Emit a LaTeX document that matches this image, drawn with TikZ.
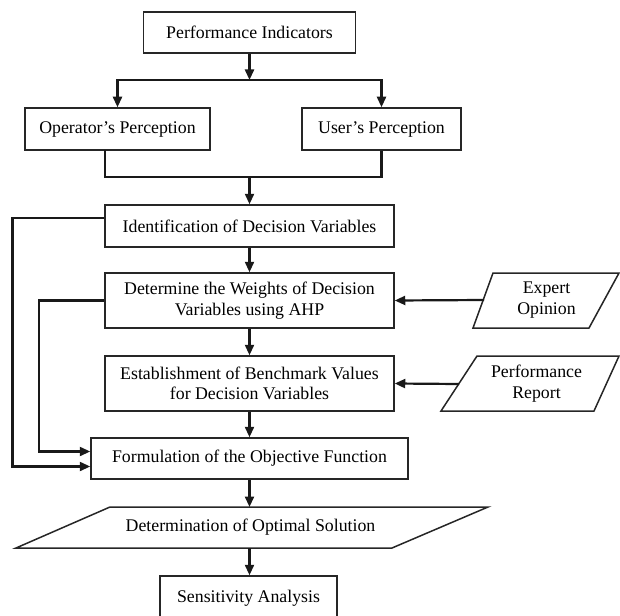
\documentclass[tikz,border=0pt]{standalone}
\usepackage{fontspec}
\setmainfont{Liberation Serif}
\usetikzlibrary{arrows.meta}
\begin{document}
\begin{tikzpicture}[x=1pt,y=-1pt,
  box/.style={draw=black!85,line width=1.5pt,rectangle,inner sep=0pt,align=center,
     font=\fontsize{17.8}{20.5}\selectfont},
  txt/.style={inner sep=0pt,align=center,font=\fontsize{17.8}{20.5}\selectfont},
  shp/.style={draw=black!85,line width=1.5pt,line join=miter},
  conn/.style={draw=black!90,line width=2.2pt},
  arr/.style={conn,-{Triangle[length=10.5pt,width=9pt]}}]
\useasboundingbox (0,0) rectangle (620,615);
% boxes
\node[box,minimum width=212pt,minimum height=41pt] (pi) at (249.5,32.5) {Performance Indicators};
\node[box,minimum width=185pt,minimum height=42pt] (op) at (117.5,129) {Operator’s Perception};
\node[box,minimum width=159pt,minimum height=42pt] (us) at (381.5,129) {User’s Perception};
\node[box,minimum width=289pt,minimum height=42pt] (idv) at (249.5,226) {Identification of Decision Variables};
\node[box,minimum width=289pt,minimum height=55pt] (dw) at (249.5,300.5) {Determine the Weights of Decision\\Variables using AHP};
\node[box,minimum width=289pt,minimum height=55pt] (eb) at (249.5,383.5) {Establishment of Benchmark Values\\for Decision Variables};
\node[box,minimum width=317pt,minimum height=41pt] (fof) at (249.5,458.5) {Formulation of the Objective Function};
\node[box,minimum width=177pt,minimum height=44pt] (sa) at (248.5,598) {Sensitivity Analysis};
% parallelograms
\draw[shp] (493,273) -- (619,273) -- (589,328) -- (473,328) -- cycle;
\node[txt] (eo) at (546.5,300) {Expert\\Opinion};
\draw[shp] (477,356) -- (619,356) -- (594,411) -- (441,411) -- cycle;
\node[txt] (pr) at (536.5,383.5) {Performance\\Report};
\draw[shp] (110,507) -- (488,507) -- (392,548) -- (16,548) -- cycle;
\node[txt,minimum height=41pt] (dos) at (250.5,527.5) {Determination of Optimal Solution};
% junctions
\coordinate (j1) at (249.5,80);
\coordinate (j2) at (249.5,177);
\coordinate (opb) at (105,150);
\coordinate (eoL) at (484,300);
\coordinate (prL) at (459,384);
\coordinate (l1a) at (12.5,218);
\coordinate (l1b) at (12.5,466.5);
\coordinate (l2a) at (39,300.5);
\coordinate (l2b) at (39,451.5);
\coordinate (dosT) at (249.5,507);
\coordinate (dosB) at (249.5,548);
% connectors
\draw[arr] (pi) -- (j1);
\draw[arr] (j1) -| (op);
\draw[arr] (j1) -| (us);
\draw[conn] (opb) |- (j2);
\draw[conn] (us) |- (j2);
\draw[arr] (j2) -- (idv);
\draw[arr] (idv) -- (dw);
\draw[arr] (dw) -- (eb);
\draw[arr] (eb) -- (fof);
\draw[arr] (fof) -- (dosT);
\draw[arr] (dosB) -- (dosB |- sa.north);
\draw[arr] (eoL) -- (dw.east);
\draw[arr] (prL) -- (eb.east);
\draw[arr] ([yshift=8pt]idv.west) -- (l1a) -- (l1b) -- ([yshift=-8pt]fof.west);
\draw[arr] (dw.west) -- (l2a) -- (l2b) -- ([yshift=7pt]fof.west);
\end{tikzpicture}
\end{document}
